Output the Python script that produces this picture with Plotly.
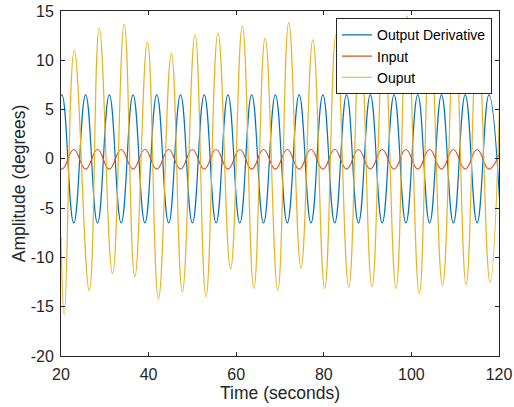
import plotly.graph_objects as go

# Extrema times (s) shared by Output Derivative and Input
wave_t = [17.49, 20.20, 22.91, 25.62, 28.33, 31.03, 33.74, 36.45, 39.16, 41.87,
          44.58, 47.29, 49.99, 52.70, 55.41, 58.12, 60.83, 63.54, 66.24, 68.95,
          71.66, 74.37, 77.08, 79.79, 82.50, 85.20, 87.91, 90.62, 93.33, 96.04,
          98.75, 101.46, 104.16, 106.87, 109.58, 112.29, 115.00, 117.70, 120.41]
deriv_v = [-6.5, 6.5, -6.5, 6.5, -6.5, 6.5, -6.5, 6.5, -6.5, 6.5,
           -6.5, 6.5, -6.5, 6.5, -6.5, 6.5, -6.5, 6.5, -6.5, 6.5,
           -6.5, 6.5, -6.5, 6.5, -6.5, 6.5, -6.5, 6.5, -6.5, 6.5,
           -6.5, 6.5, -6.5, 6.5, -6.5, 6.5, -6.5, 6.5, -6.5]
input_v = [0.95, -1.05, 0.95, -1.05, 0.95, -1.05, 0.95, -1.05, 0.95, -1.05,
           0.95, -1.05, 0.95, -1.05, 0.95, -1.05, 0.95, -1.05, 0.95, -1.05,
           0.95, -1.05, 0.95, -1.05, 0.95, -1.05, 0.95, -1.05, 0.95, -1.05,
           0.95, -1.05, 0.95, -1.05, 0.95, -1.05, 0.95, -1.05, 0.95]

# Output extrema
out_t = [20.0, 20.76, 23.03, 26.45, 28.73, 31.76, 34.43, 36.85, 39.73, 42.25,
         45.2, 47.7, 50.6, 53.1, 55.84, 58.72, 61.4, 64.03, 66.6, 69.5,
         72.0, 74.8, 77.5, 80.2, 82.8, 85.7, 88.3, 91.0, 93.7, 96.5,
         99.0, 101.8, 104.3, 107.1, 109.9, 112.5, 115.1, 117.95, 120.6]
out_v = [-7.9, -15.8, 11.0, -13.35, 13.25, -11.64, 13.65, -11.97, 11.87, -14.2,
         10.7, -13.5, 12.6, -14.0, 12.75, -11.17, 13.49, -13.15, 12.24, -13.36,
         13.82, -11.07, 12.07, -13.15, 12.6, -12.98, 12.8, -13.0, 12.5, -13.15,
         14.5, -13.66, 12.5, -12.85, 13.0, -12.75, 12.8, -12.5, 13.0]

x_ticks = [20, 40, 60, 80, 100, 120]
x_ticklabels = ["20", "40", "60", "80", "100", "120"]
y_ticks = [-20, -15, -10, -5, 0, 5, 10, 15]
y_ticklabels = ["-20", "-15", "-10", "-5", "0", "5", "10", "15"]

FONT = "Liberation Sans, Arial, Helvetica, sans-serif"
AX = "#262626"

fig = go.Figure()
fig.add_trace(go.Scatter(x=wave_t, y=deriv_v, name="Output Derivative", mode="lines",
                         line=dict(color="#0072BD", width=1.2, shape="spline", smoothing=1.3)))
fig.add_trace(go.Scatter(x=wave_t, y=input_v, name="Input", mode="lines",
                         line=dict(color="#D95319", width=1.2, shape="spline", smoothing=1.3)))
fig.add_trace(go.Scatter(x=out_t, y=out_v, name="Ouput", mode="lines",
                         line=dict(color="#EDB120", width=1.2, shape="spline", smoothing=1.3)))

axis_common = dict(showline=True, linecolor=AX, linewidth=1, mirror="ticks",
                   ticks="inside", ticklen=4, tickcolor=AX, tickwidth=1,
                   showgrid=False, zeroline=False,
                   tickfont=dict(family=FONT, size=16, color=AX))

fig.update_layout(
    width=514, height=407,
    margin=dict(l=61, r=15, t=11, b=51),
    paper_bgcolor="white", plot_bgcolor="white",
    font=dict(family=FONT, color=AX),
    xaxis=dict(range=[20, 120], tickvals=x_ticks, ticktext=x_ticklabels,
               title=dict(text="Time (seconds)", font=dict(family=FONT, size=17.5, color=AX), standoff=1),
               ticklabelstandoff=4, **axis_common),
    yaxis=dict(range=[-20, 15], tickvals=y_ticks, ticktext=y_ticklabels,
               title=dict(text="Amplitude (degrees)", font=dict(family=FONT, size=17.5, color=AX), standoff=0),
               ticklabelstandoff=3, **axis_common),
    legend=dict(x=0.984, y=0.979, xanchor="right", yanchor="top",
                bgcolor="white", bordercolor=AX, borderwidth=1,
                font=dict(family=FONT, size=14, color="black"),
                tracegroupgap=0, itemwidth=30),
    showlegend=True,
)
fig.update_xaxes(automargin=False)
fig.update_yaxes(automargin=False)

fig.write_html("out.html", config={"displayModeBar": False},
               post_script="document.body.style.margin='0';document.body.style.overflow='hidden';")
